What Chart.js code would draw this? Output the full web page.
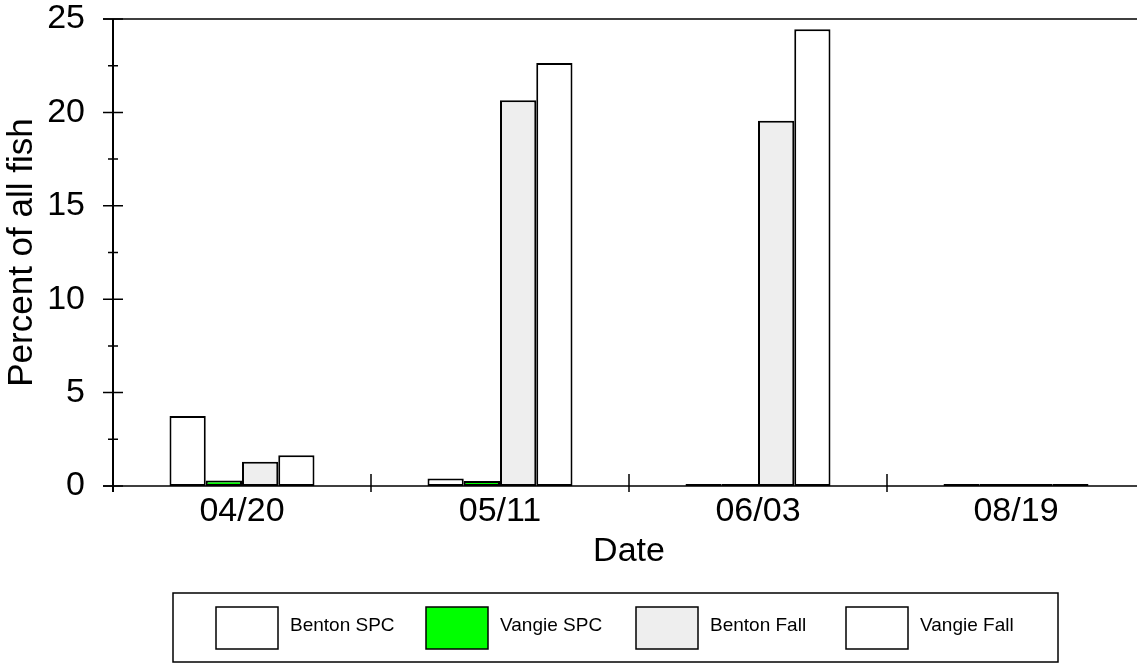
<!DOCTYPE html>
<html>
<head>
<meta charset="utf-8">
<script src="https://cdn.jsdelivr.net/npm/chart.js@4.4.1/dist/chart.umd.min.js"></script>
<style>
  html, body { margin: 0; padding: 0; background: #fff; overflow: hidden; }
  #wrap { width: 1137px; height: 664px; overflow: hidden; position: relative; }
  canvas { display: block; }
</style>
</head>
<body>
<div id="wrap"><canvas id="c" width="1160" height="664" style="width:1160px;height:664px"></canvas></div>
<script>
const dates = ["04/20", "05/11", "06/03", "08/19"];
const seriesNames = ["Benton SPC", "Vangie SPC", "Benton Fall", "Vangie Fall"];
const bentonSpc = [3.75, 0.4, 0, 0];
const vangieSpc = [0.3, 0.27, 0, 0];
const bentonFall = [1.3, 20.65, 19.55, 0];
const vangieFall = [1.65, 22.65, 24.45, 0];
const yTicks = [0, 5, 10, 15, 20, 25];
const yMinorTicks = [2.5, 7.5, 12.5, 17.5, 22.5];

const fills = ["#ffffff", "#00ff00", "#eeeeee", "#ffffff"];
const FONT = "'Liberation Sans', Arial, sans-serif";

// axis frame, crossing tick marks and the boxed legend are drawn by hand
const framePlugin = {
  id: "frame",
  afterDraw(chart) {
    const { ctx, chartArea: a } = chart;
    const x = chart.scales.x;
    const y = chart.scales.y;
    ctx.save();
    ctx.strokeStyle = "#000";
    ctx.lineCap = "butt";

    ctx.lineWidth = 2;
    ctx.beginPath();
    ctx.moveTo(a.left, a.top);
    ctx.lineTo(a.left, a.bottom + 6);
    ctx.stroke();

    ctx.lineWidth = 1.5;
    ctx.beginPath();
    ctx.moveTo(a.left - 10, a.top);
    ctx.lineTo(a.right, a.top);
    ctx.moveTo(a.left - 10, a.bottom);
    ctx.lineTo(a.right, a.bottom);
    ctx.stroke();

    ctx.lineWidth = 1.5;
    ctx.beginPath();
    yTicks.forEach(v => {
      const py = y.getPixelForValue(v);
      ctx.moveTo(a.left - 10, py);
      ctx.lineTo(a.left + 10, py);
    });
    yMinorTicks.forEach(v => {
      const py = y.getPixelForValue(v);
      ctx.moveTo(a.left - 5, py);
      ctx.lineTo(a.left + 5, py);
    });
    for (let i = 0; i < dates.length; i++) {
      const px = (x.getPixelForValue(i) + x.getPixelForValue(i + 1)) / 2;
      ctx.moveTo(px, a.bottom - 12);
      ctx.lineTo(px, a.bottom + 6);
    }
    ctx.stroke();

    // legend
    const box = { left: 173, top: 593, right: 1058, bottom: 662 };
    ctx.lineWidth = 1.5;
    ctx.strokeRect(box.left, box.top, box.right - box.left, box.bottom - box.top);
    ctx.font = "19px " + FONT;
    ctx.textBaseline = "middle";
    ctx.textAlign = "left";
    chart.data.datasets.forEach((ds, i) => {
      const sx = 216 + i * 210;
      ctx.fillStyle = ds.backgroundColor;
      ctx.fillRect(sx, 607, 62, 42);
      ctx.lineWidth = 1.5;
      ctx.strokeRect(sx, 607, 62, 42);
      ctx.fillStyle = "#000";
      ctx.fillText(ds.label, sx + 74, 626);
    });
    ctx.restore();
  }
};

const allSeries = [bentonSpc, vangieSpc, bentonFall, vangieFall];

new Chart(document.getElementById("c"), {
  type: "bar",
  data: {
    labels: dates,
    datasets: allSeries.map((vals, i) => ({
      label: seriesNames[i],
      data: vals,
      backgroundColor: fills[i],
      borderColor: "#000",
      borderWidth: 2,
      borderSkipped: false,
      minBarLength: 2,
      barPercentage: 1,
      categoryPercentage: 0.562,
    })),
  },
  options: {
    responsive: false,
    animation: false,
    events: [],
    layout: { padding: { left: 0, top: 0, right: 15, bottom: 88 } },
    plugins: {
      legend: { display: false },
      tooltip: { enabled: false },
    },
    scales: {
      x: {
        offset: true,
        afterFit(scale) { scale.height = 90; },
        grid: { display: false, drawTicks: false },
        border: { display: false },
        ticks: {
          color: "#000",
          font: { family: FONT, size: 34, lineHeight: 1 },
          padding: 9,
          maxRotation: 0,
          autoSkip: false,
        },
        title: {
          display: true,
          text: "Date",
          color: "#000",
          font: { family: FONT, size: 34, lineHeight: 1 },
          padding: { top: 0, bottom: 7 },
        },
      },
      y: {
        min: 0,
        max: 25,
        afterFit(scale) {
          scale.width = 113;
          scale.paddingTop = 19;
          scale.paddingBottom = 0;
        },
        afterBuildTicks(scale) { scale.ticks = yTicks.map(v => ({ value: v })); },
        grid: { display: false, drawTicks: false },
        border: { display: false },
        ticks: {
          color: "#000",
          font: { family: FONT, size: 34, lineHeight: 1 },
          padding: 28,
        },
        title: {
          display: true,
          text: "Percent of all fish",
          color: "#000",
          font: { family: FONT, size: 35, lineHeight: 1 },
          padding: { top: 5, bottom: 0 },
        },
      },
    },
  },
  plugins: [framePlugin],
});
</script>
</body>
</html>
